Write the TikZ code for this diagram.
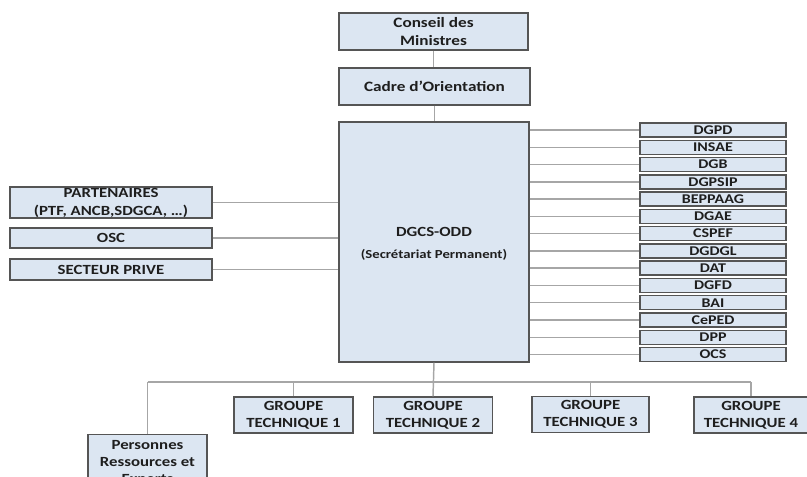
\documentclass[tikz,border=0pt]{standalone}
\usepackage{fontspec}
\setmainfont{Carlito}[FakeStretch=1.2]
\definecolor{boxfill}{HTML}{DCE6F2}
\definecolor{boxdraw}{HTML}{555555}
\definecolor{linec}{HTML}{A6A6A6}
\definecolor{txt}{HTML}{1E1E1E}
\begin{document}
\begin{tikzpicture}[x=0.75pt,y=-0.75pt,
  box/.style={draw=boxdraw, fill=boxfill, line width=1.1pt, inner sep=0pt, text=txt, align=center},
  topf/.style={font=\bfseries\fontsize{10.75}{14}\selectfont},
  leftf/.style={font=\bfseries\fontsize{10.5}{13.5}\selectfont},
  rightf/.style={font=\bfseries\fontsize{10}{10}\selectfont},
  gtf/.style={font=\bfseries\fontsize{10.5}{12.5}\selectfont},
  rbox/.style={box, rightf, minimum width=146*0.75pt, minimum height=14*0.75pt},
  conn/.style={draw=linec, line width=1.1pt}]
\useasboundingbox (0,0) rectangle (807,476);
\clip (0,0) rectangle (807,476);

% top
\node[box, topf, minimum width=189*0.75pt, minimum height=37*0.75pt] (cm) at (433.5,31.5) {Conseil des\\Ministres};
\node[box, topf, minimum width=191*0.75pt, minimum height=37*0.75pt] (co) at (434.5,86.5) {Cadre d’Orientation};

% main
\node[box, minimum width=190*0.75pt, minimum height=240*0.75pt] (main) at (434,242) {};
\node[text=txt, font=\bfseries\fontsize{10.5}{12}\selectfont] (m1) at (434,232) {DGCS-ODD};
\node[text=txt, font=\bfseries\fontsize{9.2}{10}\selectfont] (m2) at (434,255) {(Secrétariat Permanent)};

% right column
\foreach \n/\t [count=\i from 0] in {r1/DGPD,r2/INSAE,r3/DGB,r4/DGPSIP,r5/BEPPAAG,r6/DGAE,r7/CSPEF,r8/DGDGL,r9/DAT,r10/DGFD,r11/BAI,r12/CePED,r13/DPP,r14/OCS}{
  \node[rbox] (\n) at (713,{130+17.27*\i}) {\t};
  \draw[conn] (main.east |- \n.west) -- (\n.west);
}

% left column
\node[box, leftf, minimum width=202*0.75pt, minimum height=31*0.75pt] (l1) at (111,202.5) {PARTENAIRES\\(PTF, ANCB,SDGCA, …)};
\node[box, leftf, minimum width=202*0.75pt, minimum height=20*0.75pt] (l2) at (111,238) {OSC};
\node[box, leftf, minimum width=202*0.75pt, minimum height=21*0.75pt] (l3) at (111,269.5) {SECTEUR PRIVE};
\draw[conn] (l1.east) -- (l1.east -| main.west);
\draw[conn] (l2.east) -- (l2.east -| main.west);
\draw[conn] (l3.east) -- (l3.east -| main.west);

% top connectors
\draw[conn] (cm.south) -- (co.north -| cm.south);
\draw[conn] (co.south) -- (main.north -| co.south);

% bottom
\coordinate (busL) at (147.5,382);
\coordinate (busR) at (751,382);
\node[box, gtf, minimum width=119*0.75pt, minimum height=36*0.75pt] (g1) at (293.5,415) {GROUPE\\TECHNIQUE 1};
\node[box, gtf, minimum width=119*0.75pt, minimum height=36*0.75pt] (g2) at (433,415) {GROUPE\\TECHNIQUE 2};
\node[box, gtf, minimum width=117*0.75pt, minimum height=36*0.75pt] (g3) at (590.5,414.5) {GROUPE\\TECHNIQUE 3};
\node[box, gtf, minimum width=114*0.75pt, minimum height=36*0.75pt] (g4) at (751,415) {GROUPE\\TECHNIQUE 4};
\node[box, font=\bfseries\fontsize{10.5}{12.75}\selectfont, minimum width=119*0.75pt, minimum height=56*0.75pt, anchor=north] (pr) at (147.5,434) {Personnes\\Ressources et\\Experts};
\draw[conn] (busL) -- (busR);
\draw[conn] (main.south) -- (g2.north);
\draw[conn] (pr.north) -- (pr.north |- busL);
\draw[conn] (g1.north) -- (g1.north |- busL);
\draw[conn] (g3.north) -- (g3.north |- busL);
\draw[conn] (g4.north) -- (g4.north |- busL);
\end{tikzpicture}
\end{document}
